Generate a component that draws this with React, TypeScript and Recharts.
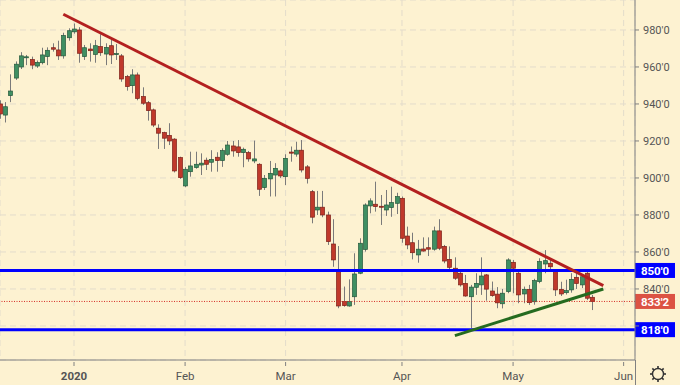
import React from "react";
import {
  ComposedChart,
  Bar,
  XAxis,
  YAxis,
  CartesianGrid,
  ReferenceLine,
} from "recharts";

// bar index 0 = first session of 2020; data starts mid-December 2019
const FIRST_BAR = -14;

const opens = [
  940, 934, 944.5, 954, 960, 965, 964, 960.5, 962.3, 965.6, 970.4, 969.2, 966, 975.8,
  979, 980, 965.6, 969.7, 966.8, 971, 967, 971.5, 966.8, 966, 954.8, 949.9, 955.7, 944,
  940.7, 936.8, 926.9, 924.5, 923, 921, 911, 895.7, 903.4, 905.6, 907, 909.6, 908.5, 911.2,
  909.4, 912.8, 917.3, 916.8, 913.7, 913.7, 909.2, 907.4, 894.8, 899.5, 901.6, 903.8, 900.7,
  914, 912.9, 915, 906, 892.6, 882.7, 884.2, 880, 864.3, 849.4, 833.2, 830.8, 835.8, 848.5,
  861.4, 884.9, 885.8, 884.7, 882.7, 884, 886.3, 889, 868.6, 865, 858.4, 861.6, 862.3, 861.5,
  871.4, 863, 856, 851.2, 848.5, 843, 835.8, 840.9, 842.2, 847.6, 838.9, 837.2, 832, 838.6,
  854.4, 848.5, 837.3, 839.8, 833.1, 844, 853.5, 853.9, 849.4, 839.8, 838, 839.5, 846.3,
  842.2, 848.5, 835.5,
];

const highs = [
  942, 941, 956, 963, 968, 966.5, 965.6, 963.5, 970.4, 970.6, 972.8, 974.2, 978.5, 980.9,
  983.5, 981.5, 971.9, 972.8, 974.6, 977.7, 972.8, 975, 972.4, 967, 955.7, 958.8, 957, 949,
  941.6, 937.5, 929, 925, 929.6, 921.5, 911.5, 906, 914.2, 914.2, 913.3, 911, 915, 913.9,
  916, 920, 920, 920.5, 916.4, 914.6, 920.2, 908, 901.6, 909.2, 908, 904.5, 912.8, 917,
  919.6, 920.5, 907, 893.5, 893, 893, 881.8, 877.7, 863.2, 841.3, 845.2, 859.3, 867.4,
  886.3, 889, 898, 890.8, 893.5, 895.3, 892, 890, 873.7, 870.4, 866.5, 867.9, 867.9, 873.7,
  877.7, 863.8, 863, 857.1, 849.4, 847.6, 842.2, 848.5, 857.1, 848.1, 844, 841, 840, 856.6,
  855.7, 849.4, 841.3, 842.2, 845.5, 856.6, 861, 856.6, 849.9, 843.9, 845, 848.5, 850, 848,
  850, 836.8,
];

const lows = [
  932, 930, 941, 953, 958.9, 961, 958.8, 959.5, 961.4, 961, 968.3, 963.8, 964.5, 974.2,
  978, 962.3, 963.8, 962.9, 962.3, 966, 961, 961.6, 963.8, 952, 947.2, 945.8, 942, 939.5,
  931, 927.5, 915.7, 915.7, 917.8, 903, 899.5, 895, 900.7, 905, 901.6, 904.3, 903.4, 903.4,
  906, 912, 911.5, 911.5, 905.8, 908.8, 908, 890.3, 893.5, 890, 890, 900, 896.2, 908.8,
  911.5, 903, 897, 875.5, 880, 878.8, 863.8, 852, 829.6, 830.4, 830.4, 831.4, 848, 860.2,
  880.9, 881.8, 874.6, 879.5, 879, 880.5, 865, 861.5, 856, 854.2, 860.2, 857.8, 860.7, 861,
  853.9, 850.6, 844.9, 841.3, 835.8, 818.8, 836.8, 836.8, 833.7, 835.8, 829.6, 829.5, 837.7,
  837.7, 832.3, 832.3, 831.4, 831.5, 843.1, 848.5, 849.4, 836.2, 836.2, 837, 838, 840, 840.5,
  834, 828.6,
];

const closes = [
  934.6, 938.5, 947, 961.5, 966, 965.5, 961, 962.5, 966.5, 969, 969.6, 966, 977, 979.6,
  980.5, 967.4, 970.4, 968.8, 971.5, 967.7, 970.6, 966.5, 967.2, 953.5, 949.4, 955.7, 943,
  940.4, 936.4, 928.6, 924.2, 921.5, 920, 903.8, 900.2, 904.7, 906.5, 907.4, 908, 907.4, 910,
  909.4, 914.8, 917.8, 914.6, 913.7, 915.5, 910.3, 910.3, 893.9, 899.8, 902.5, 905.2, 901.1,
  910.6, 913.4, 915, 904.3, 899.8, 878.8, 884.2, 880, 865.6, 855.7, 830.8, 831, 833.2, 848.1,
  864.7, 885.4, 887.6, 884.5, 884.4, 885.4, 886.7, 889.9, 867.4, 863.8, 859.6, 861.5, 860.5,
  861.5, 871.4, 862, 855.1, 851.7, 845.8, 842.2, 836.2, 841, 843, 847, 839.9, 836.4, 832.5,
  837.7, 855.7, 851.2, 836.8, 839.8, 832.6, 844.5, 854.8, 855.3, 852, 839.5, 837.3, 839.1,
  845.2, 843, 846.6, 835, 833.25,
];

const monthTicks = [0, 21, 40, 62, 83, 103.9];
const monthLabels = ["2020", "Feb", "Mar", "Apr", "May", "Jun"];
const priceTicks = [820, 840, 860, 880, 900, 920, 940, 960, 980];

const supportLevels = [850, 818];
const lastPrice = 833.25;
// trendlines: [barIndex, price] endpoints
const resistanceLine = [
  [-2.02, 988.5],
  [100.06, 841.8],
];
const supportLine = [
  [72.0, 814.8],
  [100.06, 840.0],
];

const data = opens.map((o, k) => ({
  i: FIRST_BAR + k,
  o,
  h: highs[k],
  l: lows[k],
  c: closes[k],
}));

const BG = "#fdf2d1";
const GRID = "#e3dccb";
const AXIS = "#808080";
const TEXT = "#555";
const FONT = "Roboto, 'Liberation Sans', sans-serif";

function fmtPrice(v: number) {
  const whole = Math.floor(v);
  const frac = Math.round((v - whole) * 8);
  return `${whole}'${frac}`;
}

const Candle = (props: any) => {
  const { x, y, width, height, payload } = props;
  if (x == null || !payload) return null;
  const { o, h, l, c } = payload;
  const top = Math.min(y, y + height);
  const span = Math.abs(height);
  const ppu = h === l ? 0 : span / (h - l);
  const bodyTop = top + (h - Math.max(o, c)) * ppu;
  const bodyH = Math.max(1, Math.abs(o - c) * ppu);
  const up = c >= o;
  const cx = Math.floor(x + width / 2);
  return (
    <g>
      <rect x={cx} y={top} width={1} height={span} fill="#7a7a7a" />
      <rect
        x={cx - 1.5}
        y={bodyTop}
        width={4}
        height={bodyH}
        fill={up ? "#3f8f62" : "#c0392b"}
        stroke={up ? "#24583b" : "#7d1f17"}
        strokeWidth={0.7}
      />
    </g>
  );
};

const MonthTick = (props: any) => {
  const { x, y, payload } = props;
  const idx = monthTicks.indexOf(payload.value);
  const label = idx >= 0 ? monthLabels[idx] : "";
  return (
    <g>
      <line x1={x} y1={y - 6} x2={x} y2={y - 2} stroke={AXIS} />
      <text
        x={x}
        y={y + 12}
        textAnchor="middle"
        fontSize={11.5}
        fontFamily={FONT}
        fontWeight={label === "2020" ? 700 : 400}
        fill={TEXT}
      >
        {label}
      </text>
    </g>
  );
};

const badge = (text: string, color: string) => (p: any) => {
  const vb = p.viewBox || {};
  const x0 = (vb.x || 0) + (vb.width || 0);
  const cy = vb.y || 0;
  return (
    <g>
      <rect x={x0} y={cy - 7.5} width={40} height={15} fill={color} />
      <text
        x={x0 + 20}
        y={cy + 4.3}
        textAnchor="middle"
        fontSize={11.5}
        fontWeight={700}
        fontFamily={FONT}
        fill="#fff"
      >
        {text}
      </text>
    </g>
  );
};

const Gear = () => (
  <svg
    width={20}
    height={20}
    style={{ position: "absolute", left: 648, top: 364 }}
    viewBox="-10 -10 20 20"
  >
    {[0, 45, 90, 135, 180, 225, 270, 315].map((a) => (
      <line
        key={a}
        x1={0}
        y1={-5}
        x2={0}
        y2={-8}
        stroke="#333"
        strokeWidth={1.6}
        transform={`rotate(${a})`}
      />
    ))}
    <circle cx={0} cy={0} r={5.5} fill={BG} stroke="#333" strokeWidth={1.4} />
  </svg>
);

export default function App() {
  return (
    <div
      style={{
        position: "absolute",
        left: 0,
        top: 0,
        width: 680,
        height: 385,
        background: BG,
        overflow: "hidden",
      }}
    >
      <ComposedChart
        width={680}
        height={385}
        data={data}
        margin={{ top: 0, right: 0, bottom: 0, left: 0 }}
      >
        <CartesianGrid stroke={GRID} strokeDasharray="6 4" />
        <XAxis
          dataKey="i"
          type="number"
          domain={[-13.99, 106.05]}
          allowDataOverflow
          ticks={monthTicks}
          interval={0}
          height={25}
          axisLine={{ stroke: AXIS }}
          tickLine={false}
          tick={<MonthTick />}
        />
        <YAxis
          orientation="right"
          width={45}
          domain={[801.6, 996.2]}
          allowDataOverflow
          ticks={priceTicks}
          interval={0}
          axisLine={{ stroke: AXIS }}
          tickLine={{ stroke: AXIS }}
          tickSize={4}
          tickMargin={4}
          tick={{ fontSize: 11, fill: TEXT, fontFamily: FONT }}
          tickFormatter={(v: number) => (v === 820 ? "" : fmtPrice(v))}
        />
        <Bar
          dataKey={(d: any) => [d.l, d.h]}
          barSize={4}
          shape={(p: any) => <Candle {...p} />}
          isAnimationActive={false}
        />
        <ReferenceLine
          y={lastPrice}
          stroke="#d42a22"
          strokeWidth={1}
          strokeDasharray="1 1.5"
          label={badge(fmtPrice(lastPrice), "#dc5243")}
        />
        {supportLevels.map((lv) => (
          <ReferenceLine
            key={lv}
            y={lv}
            stroke="#0000ff"
            strokeWidth={3}
            label={badge(fmtPrice(lv), "#0000ff")}
          />
        ))}
        <ReferenceLine
          segment={resistanceLine.map(([x, y]) => ({ x, y }))}
          stroke="#b3201f"
          strokeWidth={3}
        />
        <ReferenceLine
          segment={supportLine.map(([x, y]) => ({ x, y }))}
          stroke="#256b1f"
          strokeWidth={3}
        />
      </ComposedChart>
      <div
        style={{
          position: "absolute",
          left: 635,
          top: 360,
          width: 1,
          height: 25,
          background: AXIS,
        }}
      />
      <Gear />
    </div>
  );
}
